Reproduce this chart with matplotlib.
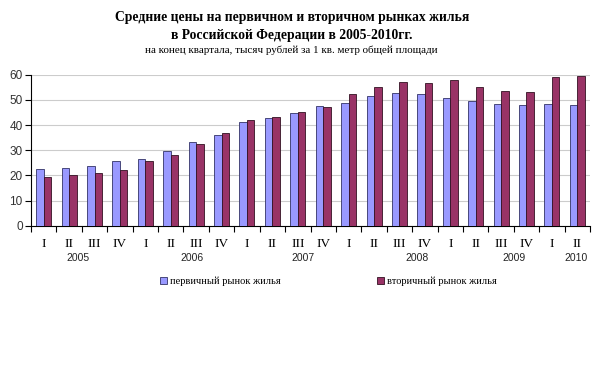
import matplotlib

matplotlib.use("Agg")
import matplotlib.pyplot as plt
import numpy as np

plt.rcParams["font.family"] = ["Liberation Sans", "DejaVu Sans"]

quarters = ["I", "II", "III", "IV"] * 5 + ["I", "II"]
years = ["2005", "2006", "2007", "2008", "2009", "2010"]
year_label_pos = [1.35, 5.83, 10.19, 14.7, 18.5, 20.95]

primary = [22.4, 23.0, 23.8, 25.6, 26.6, 29.7, 33.4, 36.0,
           41.1, 42.6, 44.6, 47.5, 48.6, 51.4, 52.7, 52.5,
           50.6, 49.4, 48.2, 47.8, 48.5, 48.1]
secondary = [19.5, 20.0, 20.8, 22.1, 25.8, 28.1, 32.3, 36.7,
             41.9, 43.2, 45.0, 47.2, 52.5, 55.0, 57.1, 56.6,
             57.9, 55.2, 53.5, 53.0, 59.1, 59.3]

series_names = ["первичный рынок жилья", "вторичный рынок жилья"]
title_lines = [
    "Средние цены на первичном и вторичном рынках жилья",
    "в Российской Федерации в 2005-2010гг.",
]
subtitle = "на конец квартала, тысяч рублей за 1 кв. метр общей площади"

BLUE = "#9999FF"
PLUM = "#993366"
SERIF = ["Liberation Serif", "DejaVu Serif"]

fig = plt.figure(figsize=(6.0, 3.81), dpi=100)
ax = fig.add_axes([0.0517, 0.4076, 0.9316, 0.3964])

x = np.arange(len(quarters))
width = 0.295
ax.bar(x - width / 2, primary, width, color=BLUE, edgecolor="#333366",
       linewidth=0.6, label=series_names[0], zorder=3)
ax.bar(x + width / 2, secondary, width, color=PLUM, edgecolor="#331122",
       linewidth=0.6, label=series_names[1], zorder=3)

ax.set_xlim(-0.5, len(quarters) - 0.5)
ax.set_ylim(0, 60)
ax.set_yticks(np.arange(0, 61, 10))
ax.yaxis.grid(True, color="#cccccc", linewidth=0.8, zorder=0)
ax.set_axisbelow(True)

for side in ("top", "right"):
    ax.spines[side].set_visible(False)
ax.spines["left"].set_linewidth(0.8)
ax.spines["bottom"].set_linewidth(0.8)

ax.set_xticks(np.arange(-0.5, len(quarters), 1.0))
ax.set_xticklabels([])
ax.set_xticks(x, minor=True)
ax.set_xticklabels(quarters, minor=True, fontfamily=SERIF, fontsize=9.5)
ax.tick_params(axis="x", which="major", direction="out", length=4, width=0.8)
ax.tick_params(axis="x", which="minor", length=0, pad=9)
ax.tick_params(axis="y", direction="out", length=4, width=0.8,
               labelsize=8.5, labelcolor="#333333", pad=2)

for label, pos in zip(years, year_label_pos):
    ax.text(pos, -0.215, label, transform=ax.get_xaxis_transform(),
            ha="center", va="center", fontsize=7.5, color="#222222")

fig.text(0.487, 0.955, title_lines[0], ha="center", va="center",
         fontfamily=SERIF, fontweight="bold", fontsize=9.8)
fig.text(0.487, 0.908, title_lines[1], ha="center", va="center",
         fontfamily=SERIF, fontweight="bold", fontsize=9.8)
fig.text(0.485, 0.869, subtitle, ha="center", va="center",
         fontfamily=SERIF, fontsize=7.9)

ax.legend(loc="center", bbox_to_anchor=(0.532, -0.37), ncol=2, frameon=False,
          prop={"family": SERIF, "size": 7.5}, handlelength=0.7,
          handleheight=0.7, handletextpad=0.3, columnspacing=9.2)

fig.savefig("out.png", dpi=100)
